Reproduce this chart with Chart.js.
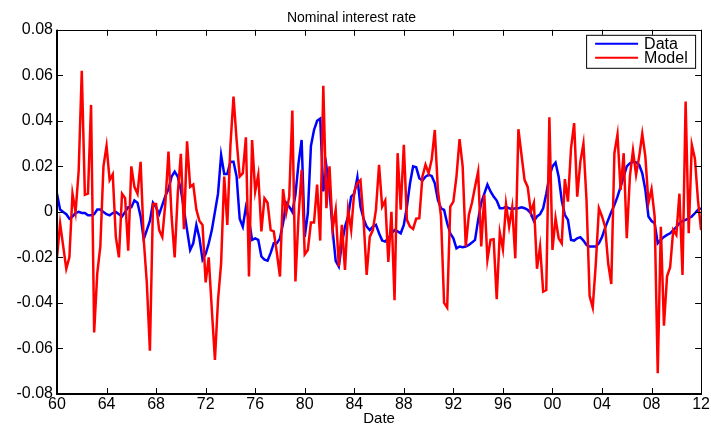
<!DOCTYPE html>
<html>
<head>
<meta charset="utf-8">
<title>Nominal interest rate</title>
<script src="https://cdn.jsdelivr.net/npm/chart.js@4.4.0/dist/chart.umd.min.js"></script>
<style>
    body { margin: 0; background: #fff; }
    #wrap { width: 711px; height: 430px; position: relative; }
</style>
</head>
<body>
<div id="wrap"><canvas id="rateChart"></canvas></div>
<script>
// quarterly series, 1960 - 2012
const startYear = 1960;
const xTicks = [1960, 1964, 1968, 1972, 1976, 1980, 1984, 1988, 1992, 1996, 2000, 2004, 2008, 2012];
const yTicks = [-0.08, -0.06, -0.04, -0.02, 0, 0.02, 0.04, 0.06, 0.08];
const seriesNames = ["Data", "Model"];

const dataValues = [
    0.008, 0.001, 0.000, -0.001, -0.003, -0.002, -0.0005, 0.000, -0.0005, -0.0005,
    -0.0015, -0.0015, -0.001, 0.001, 0.001, 0.000, -0.001, -0.0015, -0.0005, 0.000,
    -0.001, -0.002, 0.000, 0.002, 0.002, 0.005, 0.004, -0.002, -0.012, -0.008,
    -0.004, 0.004, 0.002, -0.001, 0.003, 0.007, 0.010, 0.0155, 0.0177, 0.0155,
    0.0097, 0.001, -0.008, -0.0167, -0.0138, -0.0057, -0.0116, -0.021, -0.0185, -0.0138,
    -0.008, 0.000, 0.008, 0.025, 0.0167, 0.0167, 0.022, 0.022, 0.0155, -0.003,
    -0.0065, 0.002, -0.0035, -0.0123, -0.0116, -0.0123, -0.0196, -0.021, -0.0214, -0.018,
    -0.0138, -0.0138, -0.0116, -0.005, 0.004, 0.0023, 0.000, 0.0075, 0.0214, 0.0316,
    -0.011, -0.0006, 0.029, 0.036, 0.040, 0.041, 0.009, 0.020, 0.0097, -0.008,
    -0.0215, -0.024, -0.014, -0.0065, -0.002, 0.0067, 0.008, 0.0152, 0.0023, -0.003,
    -0.0065, -0.008, -0.0065, -0.0057, -0.0094, -0.0126, -0.013, -0.0116, -0.0094, -0.008,
    -0.0086, -0.0094, -0.0057, 0.0023, 0.0126, 0.020, 0.0196, 0.0148, 0.0138, 0.0155,
    0.0163, 0.0158, 0.0126, 0.0053, 0.0016, 0.0009, -0.005, -0.0094, -0.0116, -0.016,
    -0.0152, -0.0155, -0.0152, -0.0145, -0.0135, -0.0123, -0.0035, 0.004, 0.008, 0.012,
    0.009, 0.0067, 0.005, 0.0016, 0.0016, 0.0023, 0.0016, 0.0012, 0.0016, 0.0016,
    0.002, 0.0016, 0.0009, -0.0006, -0.004, -0.002, -0.001, 0.0016, 0.008, 0.0155,
    0.020, 0.0217, 0.0155, 0.005, -0.0013, -0.0035, -0.0123, -0.0126, -0.0116, -0.0111,
    -0.0126, -0.0145, -0.0152, -0.0152, -0.0152, -0.0138, -0.011, -0.007, -0.0035, 0.000,
    0.003, 0.0067, 0.011, 0.0155, 0.020, 0.0214, 0.022, 0.0217, 0.0207, 0.017,
    0.0097, -0.002, -0.004, -0.005, -0.0138, -0.0123, -0.011, -0.0101, -0.0094, -0.008,
    -0.0067, -0.005, -0.004, -0.0035, -0.0028, -0.002, -0.0006, 0.0009, 0.0016
];

const modelValues = [
    -0.020, -0.005, -0.015, -0.025, -0.020, 0.008, 0.000, 0.018, 0.062, 0.0075,
    0.008, 0.047, -0.053, -0.027, -0.015, 0.020, 0.029, 0.014, 0.0165, -0.011,
    -0.020, 0.008, 0.006, -0.017, 0.020, 0.011, 0.008, 0.022, -0.012, -0.031,
    -0.061, 0.0035, 0.0035, -0.008, -0.011, 0.004, 0.0265, -0.002, -0.020, 0.008,
    0.0255, -0.0076, 0.031, 0.011, 0.012, 0.001, -0.004, -0.0057, -0.031, -0.020,
    -0.043, -0.065, -0.0387, -0.0226, 0.0155, -0.0057, 0.029, 0.0507, 0.0316, 0.0155,
    0.017, 0.0328, -0.0284, 0.0316, 0.009, 0.0163, -0.0086, 0.006, 0.004, -0.008,
    -0.0086, -0.018, -0.0284, 0.010, -0.0006, 0.0067, 0.0445, -0.0306, -0.002, 0.0185,
    -0.0186, -0.0167, -0.0047, -0.0047, 0.012, -0.0126, 0.0554, 0.0016, 0.020, -0.0076,
    0.0009, -0.024, -0.0057, -0.0255, 0.0009, -0.008, 0.009, 0.0126, 0.014, -0.0035,
    -0.0277, -0.011, -0.008, 0.001, 0.0207, 0.0023, 0.005, -0.022, 0.000, -0.0388,
    0.0258, 0.001, 0.0295, -0.0035, -0.0065, -0.0075, -0.003, -0.0028, 0.0155, 0.0207,
    0.017, 0.023, 0.036, 0.0097, -0.002, -0.040, -0.042, 0.0023, 0.0045, 0.0155,
    0.032, 0.020, -0.0152, -0.0013, 0.004, 0.011, 0.0177, -0.0152, 0.0075, -0.021,
    -0.0123, -0.012, -0.0384, -0.0091, -0.0164, 0.0035, -0.0065, 0.002, -0.0204, 0.0363,
    0.025, 0.014, 0.011, 0.000, 0.004, -0.025, -0.0152, -0.035, -0.0343, 0.0416,
    -0.0167, -0.0028, -0.0116, -0.0138, 0.0144, 0.0045, 0.028, 0.039, 0.0067, 0.022,
    0.030, 0.005, -0.037, -0.042, -0.0227, 0.0016, -0.002, -0.0065, -0.0227, -0.0317,
    0.0258, 0.034, 0.0097, 0.0258, -0.0116, 0.0155, 0.027, 0.0163, 0.0243, 0.0343,
    0.0243, 0.004, 0.010, -0.002, -0.0709, -0.0065, -0.050, -0.0283, -0.0243, -0.008,
    -0.0101, 0.008, -0.0277, 0.0485, -0.0094, 0.0295, 0.0234, 0.005, -0.008
];

const font = "'Liberation Sans', Arial, Helvetica, sans-serif";

function toPoints(values) {
    return values.map((v, i) => ({ x: startYear + i * 0.25, y: v }));
}

// MATLAB style box with ticks pointing inward, plus legend inside the axes
const boxPlugin = {
    id: "matlabBox",
    afterDraw(chart) {
        const { ctx, chartArea: a, scales } = chart;
        const len = 6;
        ctx.save();
        ctx.strokeStyle = "#000";
        ctx.lineWidth = 1;
        ctx.beginPath();
        xTicks.forEach((t) => {
            const px = Math.round(scales.x.getPixelForValue(t)) + 0.5;
            ctx.moveTo(px, a.bottom); ctx.lineTo(px, a.bottom - len);
            ctx.moveTo(px, a.top); ctx.lineTo(px, a.top + len);
        });
        yTicks.forEach((t) => {
            const py = Math.round(scales.y.getPixelForValue(t)) + 0.5;
            ctx.moveTo(a.left, py); ctx.lineTo(a.left + len, py);
            ctx.moveTo(a.right, py); ctx.lineTo(a.right - len, py);
        });
        ctx.stroke();
        ctx.strokeRect(Math.round(a.left) + 0.5, Math.round(a.top) + 0.5,
            Math.round(a.right - a.left), Math.round(a.bottom - a.top));
        // heavier left and bottom axis lines
        ctx.lineWidth = 2;
        ctx.beginPath();
        ctx.moveTo(Math.round(a.left), a.top);
        ctx.lineTo(Math.round(a.left), Math.round(a.bottom));
        ctx.lineTo(a.right, Math.round(a.bottom));
        ctx.stroke();

        // legend
        const lx = a.right - 115, ly = a.top + 5, lw = 109, lh = 33;
        ctx.lineWidth = 1;
        ctx.fillStyle = "#fff";
        ctx.fillRect(lx, ly, lw, lh);
        ctx.strokeRect(lx + 0.5, ly + 0.5, lw, lh);
        ctx.font = "16px " + font;
        ctx.textBaseline = "middle";
        chart.data.datasets.forEach((ds, i) => {
            const y = ly + 9 + i * 14;
            ctx.strokeStyle = ds.borderColor;
            ctx.lineWidth = 2;
            ctx.beginPath();
            ctx.moveTo(lx + 9, y); ctx.lineTo(lx + 52, y);
            ctx.stroke();
            ctx.fillStyle = "#000";
            ctx.fillText(ds.label, lx + 58, y + 1);
        });
        ctx.restore();
    }
};

new Chart(document.getElementById("rateChart"), {
    type: "line",
    data: {
        datasets: [
            {
                label: seriesNames[0],
                data: toPoints(dataValues),
                borderColor: "#0000ff",
                borderWidth: 2.5,
                pointRadius: 0,
                tension: 0,
                order: 1
            },
            {
                label: seriesNames[1],
                data: toPoints(modelValues),
                borderColor: "#ff0000",
                borderWidth: 2.5,
                pointRadius: 0,
                tension: 0,
                order: 0
            }
        ]
    },
    options: {
        responsive: true,
        maintainAspectRatio: false,
        animation: false,
        layout: { padding: { left: 0, right: 8, top: 0, bottom: 0 } },
        plugins: {
            legend: { display: false },
            tooltip: { enabled: false },
            title: {
                display: true,
                text: "Nominal interest rate",
                color: "#000",
                font: { family: font, size: 14, weight: "normal" },
                padding: { top: 10, bottom: 3 }
            }
        },
        scales: {
            x: {
                type: "linear",
                min: 1960,
                max: 2012,
                afterBuildTicks: (scale) => { scale.ticks = xTicks.map((v) => ({ value: v })); },
                afterFit: (scale) => { scale.height = 36; },
                grid: { display: false, drawTicks: false },
                border: { display: false },
                ticks: {
                    color: "#000",
                    font: { family: font, size: 16 },
                    padding: 1,
                    maxRotation: 0,
                    autoSkip: false,
                    callback: (v) => String(v % 100).padStart(2, "0")
                },
                title: {
                    display: true,
                    text: "Date",
                    color: "#000",
                    font: { family: font, size: 15 },
                    padding: { top: 0, bottom: 2 }
                }
            },
            y: {
                min: -0.08,
                max: 0.08,
                afterBuildTicks: (scale) => { scale.ticks = yTicks.map((v) => ({ value: v })); },
                afterFit: (scale) => { scale.width = 57; },
                grid: { display: false, drawTicks: false },
                border: { display: false },
                ticks: {
                    color: "#000",
                    font: { family: font, size: 16 },
                    padding: 4,
                    callback: (v) => (Math.abs(v) < 1e-9 ? "0" : v.toFixed(2))
                }
            }
        }
    },
    plugins: [boxPlugin]
});
</script>
</body>
</html>
